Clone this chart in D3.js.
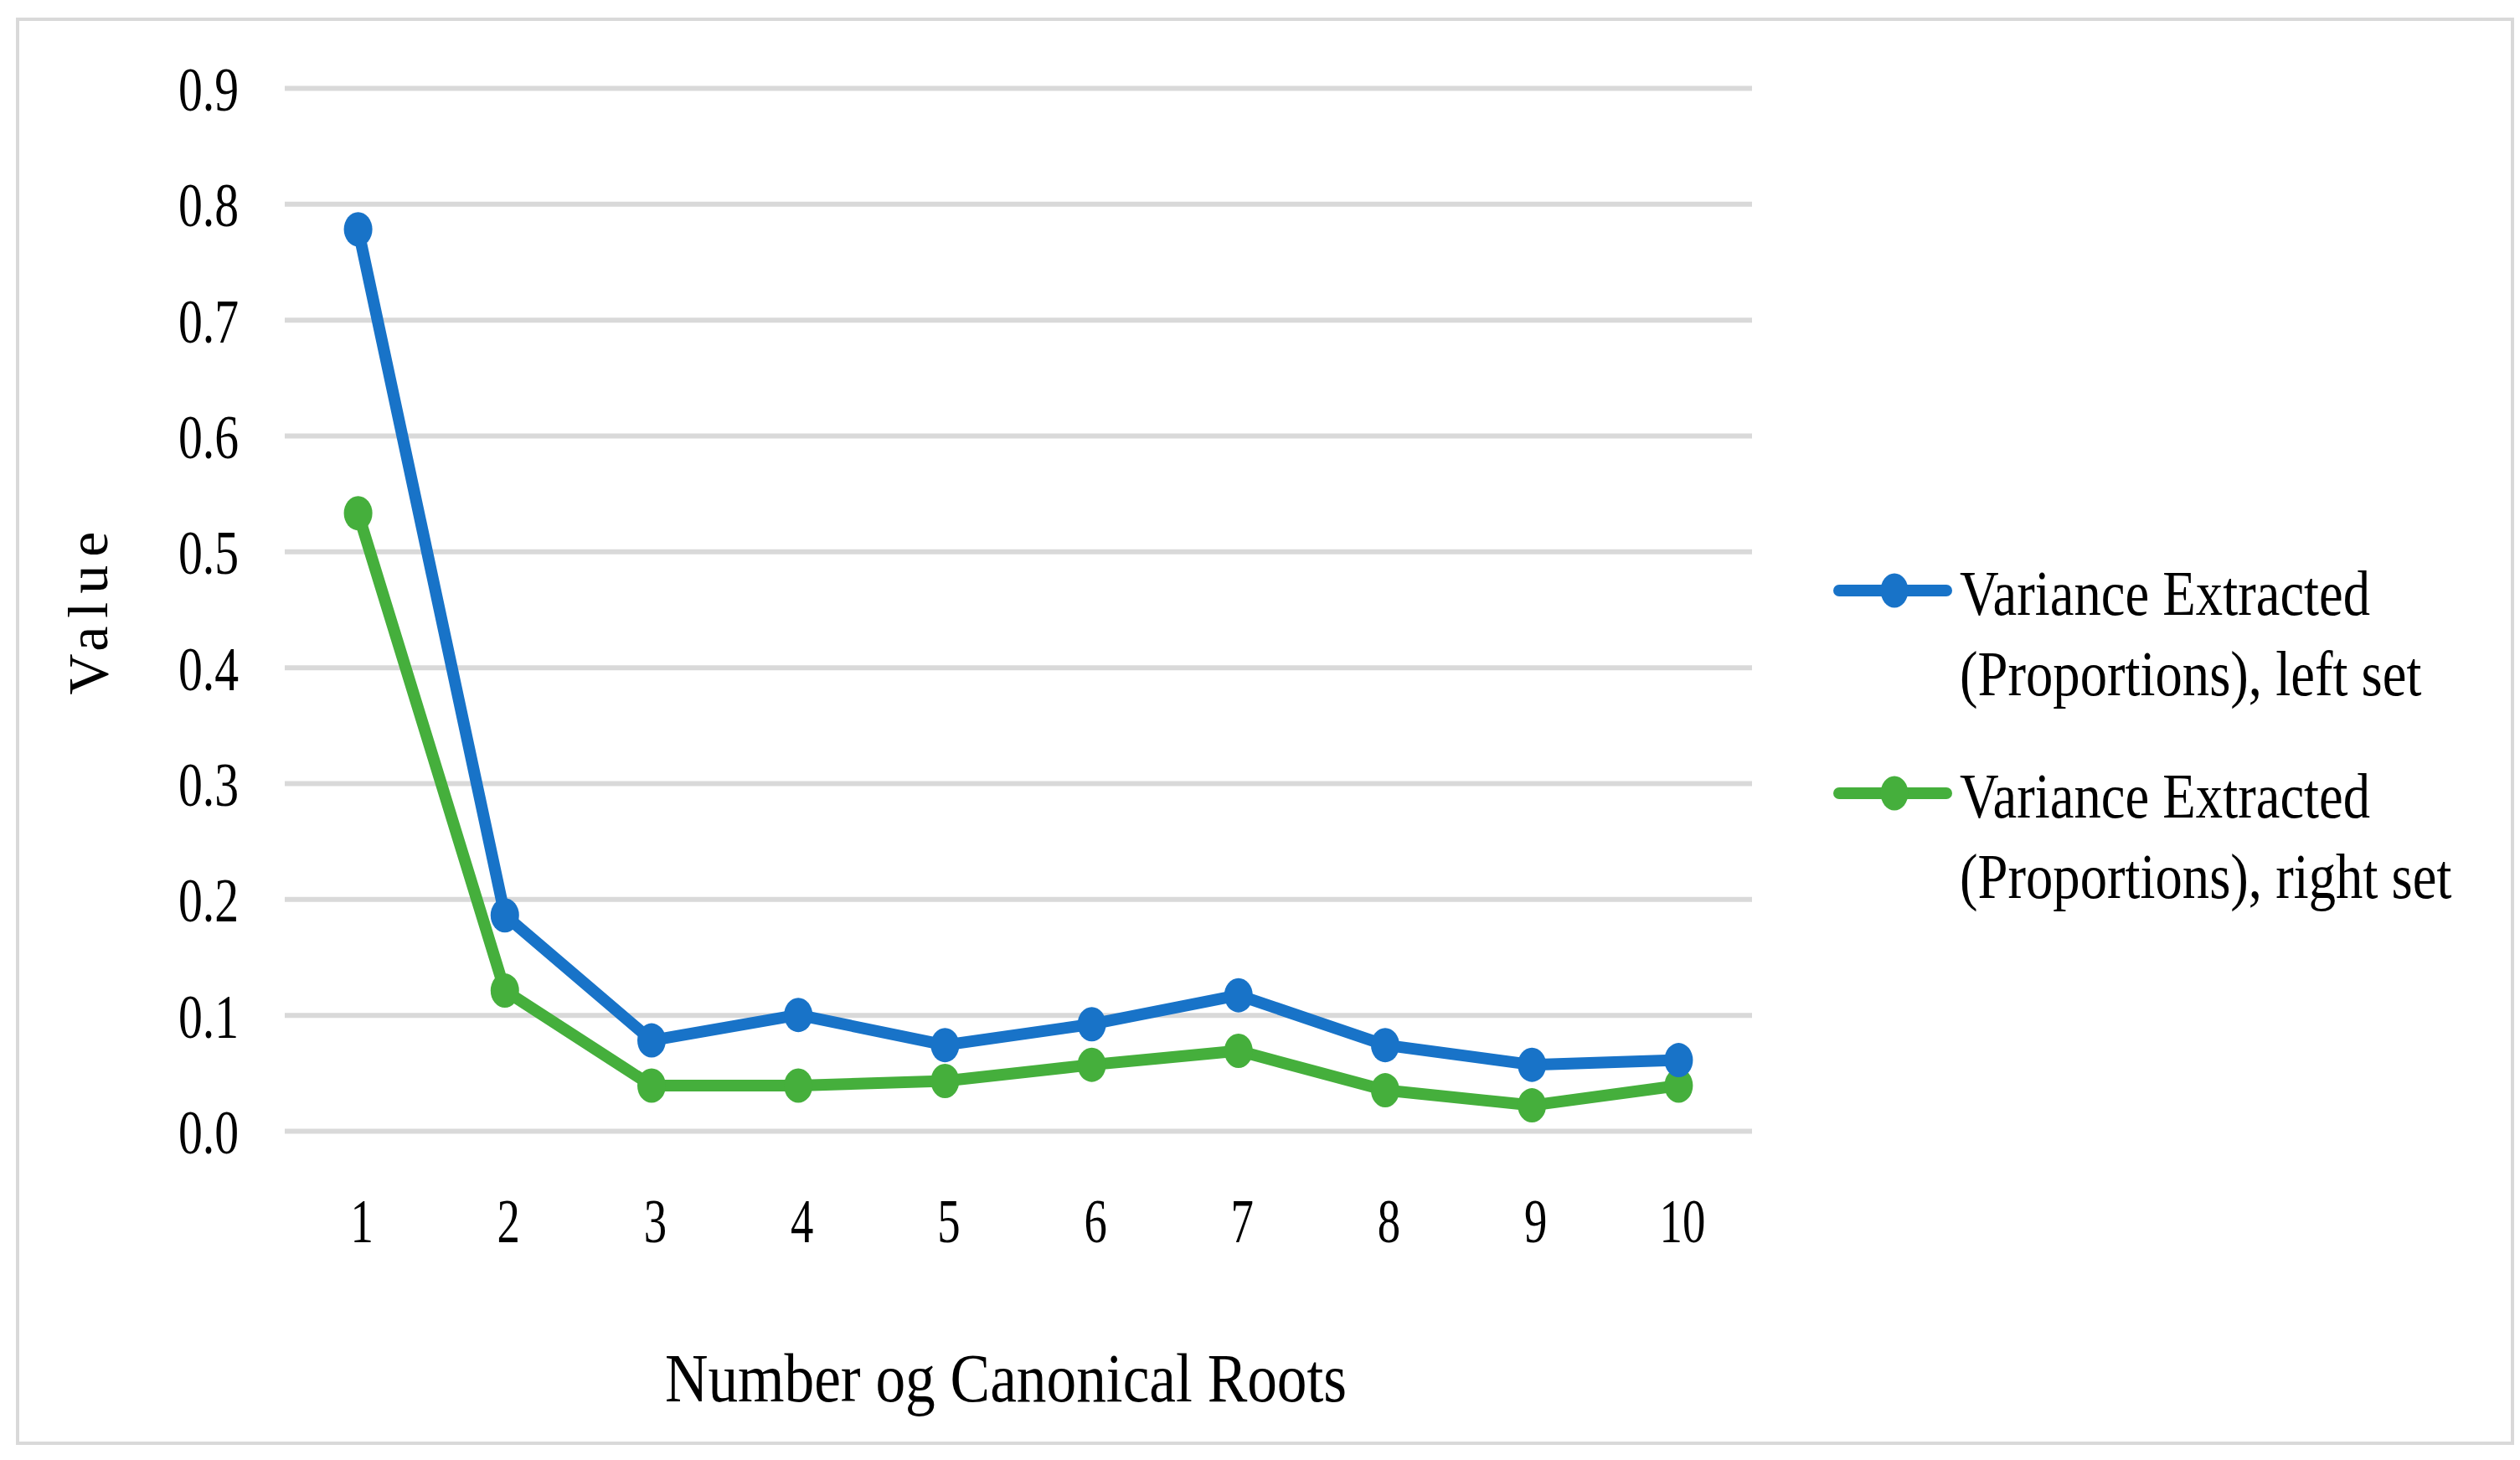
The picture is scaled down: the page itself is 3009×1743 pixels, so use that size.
<!DOCTYPE html>
<html>
<head>
<meta charset="utf-8">
<script src="https://cdn.jsdelivr.net/npm/d3@7"></script>
<style>
  body { margin: 0; background: #fff; }
</style>
</head>
<body>
<script>
// data
var roots = [1, 2, 3, 4, 5, 6, 7, 8, 9, 10];
var leftSet = [0.778, 0.186, 0.078, 0.100, 0.074, 0.092, 0.117, 0.074, 0.057, 0.061];
var rightSet = [0.533, 0.121, 0.039, 0.039, 0.043, 0.057, 0.069, 0.035, 0.022, 0.039];
var yTicks = [0, 0.1, 0.2, 0.3, 0.4, 0.5, 0.6, 0.7, 0.8, 0.9];
var leftLabel = ["Variance Extracted", "(Proportions), left set"];
var rightLabel = ["Variance Extracted", "(Proportions), right set"];
var xTitle = "Number og Canonical Roots";
var yTitle = "Value";

var W = 3009, H = 1743;
var font = "'Liberation Serif', 'Times New Roman', serif";
var blue = "#1873c8", green = "#45af3c", grid = "#d9d9d9";

var svg = d3.select("body")
            .append("svg")
            .attr("width", W)
            .attr("height", H);

// outer chart border
svg.append("rect")
   .attr("x", 21).attr("y", 23)
   .attr("width", 2979).attr("height", 1700)
   .attr("fill", "#fff")
   .attr("stroke", grid)
   .attr("stroke-width", 4);

var margin = {top: 105, left: 340};
var width = 2092 - 340;
var height = 1350 - 105;

var g = svg.append("g")
           .attr("transform", "translate(" + margin.left + "," + margin.top + ")");

var xScale = d3.scalePoint()
               .domain(roots)
               .range([0, width])
               .padding(0.5);

var yScale = d3.scaleLinear()
               .domain([0, 0.9])
               .range([height, 0]);

// y axis with gridlines
var yAxis = g.append("g")
             .call(d3.axisLeft(yScale)
                     .tickValues(yTicks)
                     .tickFormat(d3.format(".1f"))
                     .tickSize(-width)
                     .tickPadding(55));
yAxis.select(".domain").remove();
yAxis.selectAll(".tick line")
     .attr("stroke", grid)
     .attr("stroke-width", 6);
yAxis.selectAll(".tick text")
     .attr("x", null)
     .attr("transform", "translate(-55,3) scale(0.79,1)")
     .attr("fill", "#000")
     .style("font-family", font)
     .style("font-size", "73px");

// x axis labels only
var xAxis = g.append("g")
             .attr("transform", "translate(0," + height + ")")
             .call(d3.axisBottom(xScale).tickSize(0).tickPadding(81));
xAxis.select(".domain").remove();
xAxis.selectAll(".tick text")
     .attr("transform", "translate(4,0) scale(0.75,1)")
     .attr("fill", "#000")
     .style("font-family", font)
     .style("font-size", "73px");

// lines and markers, green first so blue sits on top
var series = [
  {values: rightSet, color: green, label: rightLabel},
  {values: leftSet, color: blue, label: leftLabel}
];

var line = d3.line()
             .x(function(d, i) { return xScale(roots[i]); })
             .y(function(d) { return yScale(d); });

series.forEach(function(s) {
  g.append("path")
   .datum(s.values)
   .attr("d", line)
   .attr("fill", "none")
   .attr("stroke", s.color)
   .attr("stroke-width", 14)
   .attr("stroke-linejoin", "round")
   .attr("stroke-linecap", "round");

  g.selectAll(null)
   .data(s.values)
   .enter()
   .append("ellipse")
   .attr("cx", function(d, i) { return xScale(roots[i]); })
   .attr("cy", function(d) { return yScale(d); })
   .attr("rx", 17)
   .attr("ry", 20.5)
   .attr("fill", s.color);
});

// axis titles
svg.append("text")
   .attr("transform", "translate(1201,1673) scale(0.87,1)")
   .attr("text-anchor", "middle")
   .style("font-family", font)
   .style("font-size", "82px")
   .text(xTitle);

svg.append("text")
   .attr("transform", "translate(128,727) rotate(-90)")
   .attr("text-anchor", "middle")
   .style("font-family", font)
   .style("font-size", "68px")
   .style("letter-spacing", "10px")
   .text(yTitle);

// legend
var legendItems = [
  {color: blue, label: leftLabel, y: 705},
  {color: green, label: rightLabel, y: 947}
];

var legend = svg.selectAll(".legend")
                .data(legendItems)
                .enter()
                .append("g")
                .attr("class", "legend")
                .attr("transform", function(d) { return "translate(0," + d.y + ")"; });

legend.append("line")
      .attr("x1", 2196).attr("x2", 2324)
      .attr("y1", 0).attr("y2", 0)
      .attr("stroke", function(d) { return d.color; })
      .attr("stroke-width", 14)
      .attr("stroke-linecap", "round");

legend.append("ellipse")
      .attr("cx", 2262).attr("cy", 0)
      .attr("rx", 16.5).attr("ry", 20.5)
      .attr("fill", function(d) { return d.color; });

legend.each(function(d) {
  var item = d3.select(this);
  d.label.forEach(function(t, k) {
    item.append("text")
        .attr("transform", "translate(2340," + (29 + k * 96) + ") scale(0.84,1)")
        .style("font-family", font)
        .style("font-size", "77px")
        .text(t);
  });
});
</script>
</body>
</html>
